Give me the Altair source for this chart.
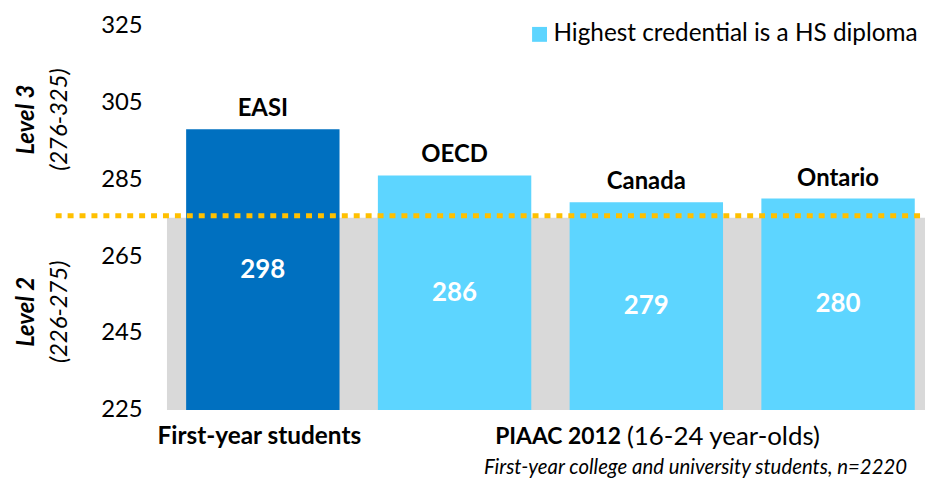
import altair as alt
import pandas as pd

# ---- data ----
categories = ["EASI", "OECD", "Canada", "Ontario"]
values = [298, 286, 279, 280]
groups = ["First-year students", "Highest credential is a HS diploma",
          "Highest credential is a HS diploma", "Highest credential is a HS diploma"]
y_ticks = [225, 245, 265, 285, 305, 325]
level_names = ["Level 3", "Level 2"]
level_ranges = ["(276-325)", "(226-275)"]
level_lo = [276, 226]
level_hi = [325, 275]
threshold = 275.5
legend_label = "Highest credential is a HS diploma"
group_title_left = "First-year students"
group_title_bold = "PIAAC 2012"
group_title_rest = "(16-24 year-olds)"
footnote = "First-year college and university students, n=2220"

FONT = "Lato"
W, H = 763, 387
BASE = 225

df = pd.DataFrame({"category": categories, "value": values, "group": groups})
df["mid"] = (BASE + df["value"]) / 2
df["base"] = BASE

lv = pd.DataFrame({"name": level_names, "rng": level_ranges,
                   "lo": level_lo, "hi": level_hi})
lv["mid"] = (lv["lo"] + lv["hi"]) / 2

xscale = alt.Scale(domain=categories, paddingInner=0.2, paddingOuter=0.0767, align=0.652)
yscale = alt.Scale(domain=[225, 325], nice=False, zero=False)

x_enc = alt.X("category:N", sort=categories, scale=xscale, axis=None)

gray = alt.Chart(pd.DataFrame({"lo": [225], "hi": [275]})).mark_rect(color="#D9D9D9").encode(
    x=alt.value(0), x2=alt.value(W),
    y=alt.Y("lo:Q", scale=yscale,
            axis=alt.Axis(values=y_ticks, title=None, domain=False, ticks=False, grid=False,
                          labelFont=FONT, labelFontSize=24, labelColor="black", labelPadding=25)),
    y2="hi:Q",
)

bars = alt.Chart(df).mark_bar().encode(
    x=x_enc,
    y=alt.Y("value:Q", scale=yscale),
    y2="base:Q",
    color=alt.Color("group:N",
                    scale=alt.Scale(domain=["First-year students", legend_label],
                                    range=["#0070C0", "#5DD5FF"]),
                    legend=None),
)

rule = alt.Chart(pd.DataFrame({"y": [threshold]})).mark_rule(
    color="#FFC000", strokeWidth=5, strokeDash=[6, 6]
).encode(y=alt.Y("y:Q", scale=yscale), x=alt.value(-112), x2=alt.value(W))

cat_text = alt.Chart(df).mark_text(
    font=FONT, fontSize=24, fontWeight="bold", color="black", baseline="middle", dy=-20
).encode(x=x_enc, y=alt.Y("value:Q", scale=yscale), text="category:N")

val_text = alt.Chart(df).mark_text(
    font=FONT, fontSize=26, fontWeight="bold", color="white", baseline="middle"
).encode(x=x_enc, y=alt.Y("mid:Q", scale=yscale), text="value:Q")

lvl_name = alt.Chart(lv).mark_text(
    font=FONT, fontSize=24, fontWeight="bold", fontStyle="italic", color="black",
    angle=270, baseline="middle", align="center"
).encode(x=alt.value(-141), y=alt.Y("mid:Q", scale=yscale), text="name:N")

lvl_rng = alt.Chart(lv).mark_text(
    font=FONT, fontSize=24, fontStyle="italic", color="black",
    angle=270, baseline="middle", align="center"
).encode(x=alt.value(-108), y=alt.Y("mid:Q", scale=yscale), text="rng:N")

leg_sq = alt.Chart(pd.DataFrame({"t": [legend_label]})).mark_square(
    size=225, color="#5DD5FF", opacity=1
).encode(x=alt.value(375), y=alt.value(9))

leg_tx = alt.Chart(pd.DataFrame({"t": [legend_label]})).mark_text(
    font=FONT, fontSize=24.5, color="black", align="left", baseline="middle"
).encode(x=alt.value(389), y=alt.value(9), text="t:N")

bt1 = alt.Chart(pd.DataFrame({"t": [group_title_left]})).mark_text(
    font=FONT, fontSize=24.5, fontWeight="bold", color="black", align="center", baseline="middle"
).encode(x=alt.value(93), y=alt.value(414), text="t:N")

bt2 = alt.Chart(pd.DataFrame({"t": [group_title_bold]})).mark_text(
    font=FONT, fontSize=23, fontWeight="bold", color="black", align="right", baseline="middle"
).encode(x=alt.value(457), y=alt.value(414), text="t:N")

bt3 = alt.Chart(pd.DataFrame({"t": [group_title_rest]})).mark_text(
    font=FONT, fontSize=26, color="black", align="left", baseline="middle"
).encode(x=alt.value(463), y=alt.value(414), text="t:N")

fn = alt.Chart(pd.DataFrame({"t": [footnote]})).mark_text(
    font=FONT, fontSize=20.5, fontStyle="italic", color="black", align="right", baseline="alphabetic"
).encode(x=alt.value(745), y=alt.value(451), text="t:N")

chart = alt.layer(
    gray, bars, rule, cat_text, val_text, lvl_name, lvl_rng, leg_sq, leg_tx, bt1, bt2, bt3, fn
).properties(
    width=W, height=H,
    autosize=alt.AutoSizeParams(type="none"),
    padding={"left": 160, "top": 16, "right": 0, "bottom": 70},
).configure_view(stroke=None)

chart.save("out.html", embed_options={"renderer": "svg", "actions": False})
